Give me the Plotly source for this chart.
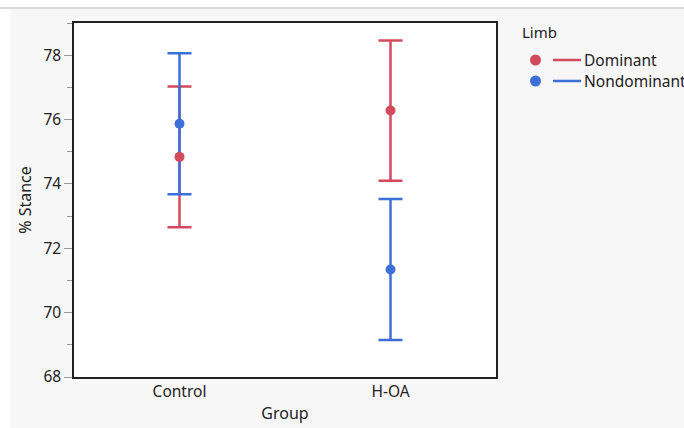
import plotly.graph_objects as go

groups = ["Control", "H-OA"]
limbs = ["Dominant", "Nondominant"]
means = {
    "Dominant": [74.84, 76.28],
    "Nondominant": [75.87, 71.34],
}
err = {
    "Dominant": [2.19, 2.18],
    "Nondominant": [2.19, 2.19],
}
colors = {"Dominant": "#d24a5b", "Nondominant": "#3d6fd8"}
y_ticks = [68, 70, 72, 74, 76, 78]
y_minor = [69, 71, 73, 75, 77, 79]

FONT = "Noto Sans"
L, R, T, B = 74, 188, 23, 51
PW, PH = 684 - L - R, 428 - T - B

fig = go.Figure()

# error bars (drawn first so that the dots sit on top of every line)
for limb in limbs:
    fig.add_trace(go.Scatter(
        x=[0, 1], y=means[limb], mode="markers", name=limb,
        marker=dict(color=colors[limb], size=10, opacity=0),
        error_y=dict(type="data", array=err[limb], visible=True,
                     color=colors[limb], thickness=2.5, width=12),
        showlegend=False, hoverinfo="skip",
    ))
# mean dots
for limb in limbs:
    fig.add_trace(go.Scatter(
        x=[0, 1], y=means[limb], mode="markers", name=limb,
        marker=dict(color=colors[limb], size=10),
        showlegend=False,
    ))

fig.update_layout(
    width=684, height=428,
    margin=dict(l=L, r=R, t=T, b=B, autoexpand=False),
    paper_bgcolor="white",
    plot_bgcolor="white",
    font=dict(family=FONT, size=15, color="#222"),
    xaxis=dict(
        range=[-0.5, 1.5], tickvals=[0, 1], ticktext=groups,
        showgrid=False, zeroline=False, showline=True, linecolor="#222",
        linewidth=1.5, mirror=True, ticks="", ticklen=0,
        tickfont=dict(size=15.5),
        title=dict(text="Group", font=dict(size=16), standoff=6),
    ),
    yaxis=dict(
        range=[68, 79], tickvals=y_ticks,
        showgrid=False, zeroline=False, showline=True, linecolor="#222",
        linewidth=1.5, mirror=True, ticks="outside", ticklen=8,
        tickcolor="#999", tickwidth=1, tickfont=dict(size=15.5),
        minor=dict(tickvals=y_minor, ticks="outside",
                   ticklen=5, tickcolor="#999"),
        title=dict(text="% Stance", font=dict(size=16), standoff=8),
    ),
)

def px_x(px):
    return (px - L) / PW

def px_y(py):
    return (428 - B - py) / PH

# gray panel background with top rule
fig.add_shape(type="rect", xref="paper", yref="paper", layer="below",
              x0=px_x(10), x1=px_x(690), y0=px_y(430), y1=px_y(8),
              fillcolor="#f7f7f7", line=dict(width=0))
fig.add_shape(type="line", xref="paper", yref="paper",
              x0=px_x(0), x1=px_x(690), y0=px_y(8), y1=px_y(8),
              line=dict(color="#cfcfcf", width=1.5))
fig.add_shape(type="rect", xref="paper", yref="paper", layer="below",
              x0=0, x1=1, y0=0, y1=1, fillcolor="white", line=dict(width=0))

# custom legend
fig.add_annotation(text="Limb", xref="paper", yref="paper",
                   x=px_x(520), y=px_y(32),
                   xanchor="left", yanchor="middle", showarrow=False,
                   font=dict(size=15, color="#222"))
for i, limb in enumerate(limbs):
    yy = px_y(60 + i * 21)
    fig.add_shape(type="circle", xref="paper", yref="paper",
                  x0=px_x(530), x1=px_x(541),
                  y0=yy - 5.5 / PH, y1=yy + 5.5 / PH,
                  fillcolor=colors[limb], line=dict(width=0))
    fig.add_shape(type="line", xref="paper", yref="paper",
                  x0=px_x(553), x1=px_x(581), y0=yy, y1=yy,
                  line=dict(color=colors[limb], width=2.5))
    fig.add_annotation(text=limb, xref="paper", yref="paper",
                       x=px_x(582), y=yy, xanchor="left",
                       yanchor="middle", showarrow=False,
                       font=dict(size=15.5, color="#222"))

fig.write_html(
    "out.html",
    config={"displayModeBar": False},
    post_script="document.body.style.margin='0';document.body.style.overflow='hidden';",
)
